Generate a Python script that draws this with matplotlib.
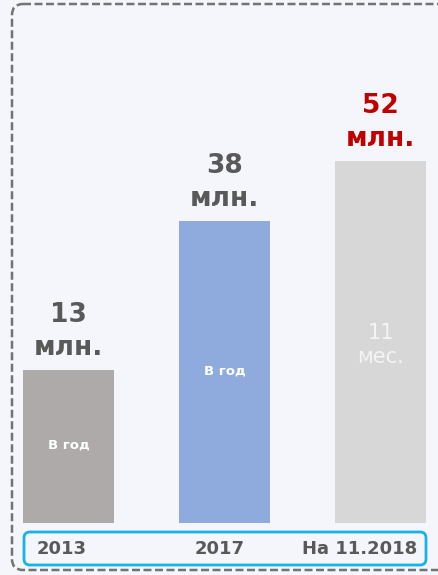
import matplotlib.pyplot as plt
from matplotlib.patches import FancyBboxPatch

# data
categories = ["2013", "2017", "На 11.2018"]
values = ["13", "38", "52"]
unit = "млн."
bar_heights = [153, 302, 362]   # drawn heights (bars are not to scale)
inner_labels = ["В год", "В год", "11\nмес."]

bar_colors = ["#aeaaaa", "#8faadc", "#d7d7d7"]
value_colors = ["#595959", "#595959", "#c00000"]
bg = "#f5f6fb"
text_gray = "#595959"

W, H = 438, 575
fig = plt.figure(figsize=(W / 100, H / 100), dpi=100)
fig.patch.set_facecolor(bg)

# decoration layer in pixel coords (top-left origin)
deco = fig.add_axes([0, 0, 1, 1])
deco.set_xlim(0, W)
deco.set_ylim(H, 0)
deco.axis("off")
deco.add_patch(FancyBboxPatch((12, 4), 460, 566,
                              boxstyle="round,pad=0,rounding_size=11",
                              fill=False, edgecolor="#737373", linewidth=1.8,
                              linestyle=(0, (3.2, 1.4))))
deco.add_patch(FancyBboxPatch((24, 532), 402, 33,
                              boxstyle="round,pad=0,rounding_size=6",
                              fill=False, edgecolor="#17b1ec", linewidth=2.0))

# bar layer: category spacing 156 px, baseline at 523 px from top
ax = fig.add_axes([0, 0, 1, 1])
ax.patch.set_alpha(0)
ax.set_xlim(-68.5 / 156, (W - 68.5) / 156)
ax.set_ylim(-(H - 523), 523)
ax.axis("off")

x = list(range(len(categories)))
ax.bar(x, bar_heights, width=91 / 156, color=bar_colors, zorder=2)

for i in x:
    h = bar_heights[i]
    ax.text(i, h + 55, values[i], ha="center", va="center", fontsize=19,
            fontweight="bold", color=value_colors[i])
    ax.text(i, h + 22, unit, ha="center", va="center", fontsize=19,
            fontweight="bold", color=value_colors[i])
    if i < 2:
        ax.text(i, h / 2 + 1, inner_labels[i], ha="center", va="center",
                fontsize=9.5, fontweight="bold", color="white")
    else:
        ax.text(i, h / 2 - 3, inner_labels[i], ha="center", va="center",
                fontsize=15, color="#f4f4f4", linespacing=1.2)

# category labels inside the blue box
label_x = [62, 220, 360]
for lx, lab in zip(label_x, categories):
    deco.text(lx, 549, lab, ha="center", va="center", fontsize=13,
              fontweight="bold", color=text_gray)

fig.savefig("out.png", dpi=100, facecolor=bg)
